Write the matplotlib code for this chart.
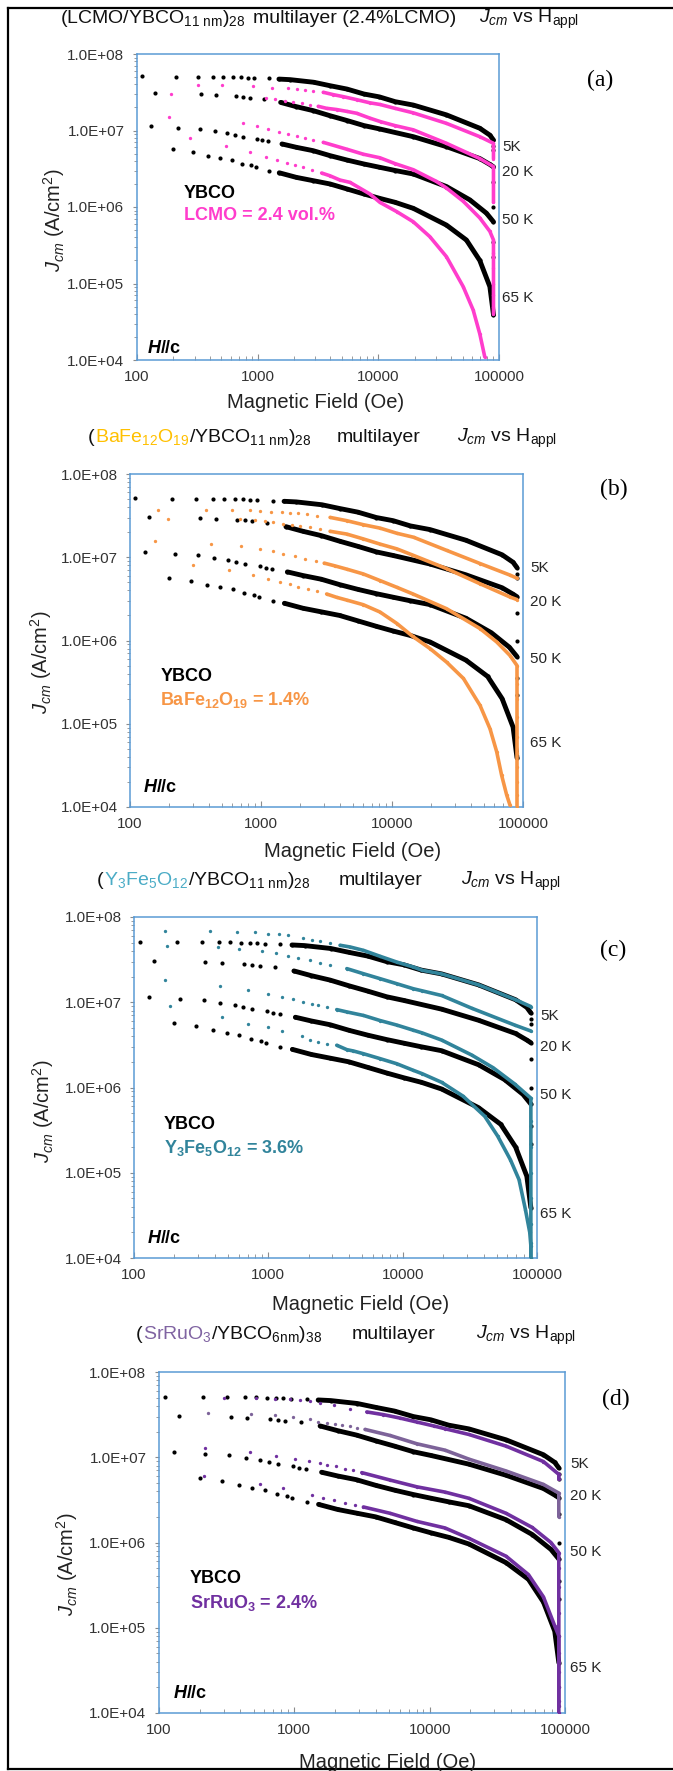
import matplotlib
matplotlib.use("Agg")
import matplotlib.pyplot as plt
from matplotlib.lines import Line2D
from matplotlib.ticker import LogLocator, NullFormatter

plt.rcParams['font.family'] = ['Liberation Sans', 'DejaVu Sans']
plt.rcParams['mathtext.fontset'] = 'custom'
plt.rcParams['mathtext.rm'] = 'Liberation Sans'
plt.rcParams['mathtext.it'] = 'Liberation Sans:italic'
plt.rcParams['mathtext.bf'] = 'Liberation Sans:bold'

W, H = 673, 1771

# ---- data: field H (Oe), Jcm (A/cm2) ----
# pure YBCO reference (same in all four panels)
ybco_5k_h = [110, 210, 320, 430, 520, 630, 730, 830, 940, 1230, 1500, 1860, 2920, 3980, 5500, 7590,
             10200, 13800, 19500, 36700, 69300, 84000, 90000, 90000, 90000]
ybco_5k_j = [5.15e7, 5.06e7, 5.06e7, 5.06e7, 5.06e7, 5.0e7, 4.95e7, 4.91e7, 4.85e7, 4.8e7, 4.7e7, 4.62e7,
             4.27e7, 3.85e7, 3.48e7, 3.0e7, 2.75e7, 2.38e7, 2.15e7, 1.6e7, 1.07e7, 8.7e6, 7.5e6, 6.3e6, 5.6e6]
ybco_20k_h = [140, 340, 450, 660, 760, 860, 1120, 1550, 2090, 2880, 3980, 5500, 7590, 10200, 19500,
              36700, 69300, 84000, 90000, 90000, 90000]
ybco_20k_j = [3.06e7, 2.97e7, 2.91e7, 2.82e7, 2.77e7, 2.69e7, 2.58e7, 2.33e7, 2.05e7, 1.82e7, 1.56e7,
              1.35e7, 1.16e7, 1.05e7, 8.3e6, 6.15e6, 4.3e6, 3.6e6, 3.35e6, 2.15e6, 1.0e6]
ybco_50k_h = [130, 220, 330, 440, 560, 650, 760, 980, 1090, 1220, 1590, 2090, 2880, 3980, 5500, 7590,
              10200, 13800, 19500, 36700, 57300, 78700, 90000, 90000, 90000]
ybco_50k_j = [1.16e7, 1.09e7, 1.06e7, 9.8e6, 9.2e6, 8.7e6, 8.3e6, 7.8e6, 7.5e6, 7.2e6, 6.67e6, 6.03e6,
              5.45e6, 4.69e6, 4.11e6, 3.65e6, 3.31e6, 3.0e6, 2.7e6, 1.85e6, 1.24e6, 8.3e5, 6.4e5, 3.5e5, 2.2e5]
ybco_65k_h = [200, 290, 390, 490, 610, 740, 880, 960, 1230, 1510, 2090, 2880, 3980, 5500, 7590, 10200,
              13800, 19500, 36700, 53700, 69300, 84000, 90000]
ybco_65k_j = [5.7e6, 5.2e6, 4.7e6, 4.4e6, 4.1e6, 3.7e6, 3.5e6, 3.3e6, 3.0e6, 2.8e6, 2.44e6, 2.21e6,
              2.0e6, 1.72e6, 1.48e6, 1.3e6, 1.15e6, 9.6e5, 5.8e5, 3.7e5, 2.0e5, 9.1e4, 3.9e4]

# (a) LCMO 2.4 vol.%
lcmo_5k_h = [320, 510, 910, 1310, 1800, 2100, 2470, 2890, 3500, 4240, 5120, 6610, 8510, 10300, 13700,
             19500, 36700, 69300, 90000, 90000]
lcmo_5k_j = [3.94e7, 3.94e7, 3.82e7, 3.63e7, 3.56e7, 3.48e7, 3.38e7, 3.32e7, 3.16e7, 2.94e7, 2.77e7,
             2.53e7, 2.3e7, 2.19e7, 1.95e7, 1.70e7, 1.24e7, 8.3e6, 6.8e6, 4.3e6]
lcmo_20k_h = [190, 1170, 1390, 1680, 1970, 2310, 2710, 3180, 3720, 4510, 5460, 6610, 8510, 10500,
              13700, 19500, 36700, 69300, 90000, 90000]
lcmo_20k_j = [2.97e7, 2.63e7, 2.58e7, 2.45e7, 2.38e7, 2.26e7, 2.18e7, 2.07e7, 1.95e7, 1.88e7, 1.78e7,
              1.68e7, 1.45e7, 1.3e7, 1.16e7, 1.02e7, 6.8e6, 4.3e6, 3.37e6, 1.15e6]
lcmo_50k_h = [185, 750, 980, 1220, 1510, 1800, 2100, 2470, 2890, 3500, 5460, 7500, 10300, 13700, 19500,
              30300, 36700, 50500, 69300, 84000, 90000, 90000, 90000, 90000, 90000, 90000, 90000]
lcmo_50k_j = [1.49e7, 1.24e7, 1.13e7, 1.05e7, 9.7e6, 9.0e6, 8.6e6, 8.1e6, 7.5e6, 7.0e6, 5.7e6, 4.9e6,
              4.4e6, 3.7e6, 3.07e6, 2.16e6, 1.77e6, 1.19e6, 7.2e5, 4.8e5, 3.7e5, 2.5e5, 1.6e5, 1.0e5,
              7.0e4, 5.0e4, 4.0e4]
lcmo_65k_h = [274, 550, 863, 1170, 1460, 1760, 2040, 2390, 2800, 3390, 3970, 4810, 5820, 8510, 10300,
              14200, 19500, 26700, 36700, 50500, 61100, 69300, 76200]
lcmo_65k_j = [7.9e6, 6.3e6, 5.3e6, 4.55e6, 4.11e6, 3.76e6, 3.54e6, 3.30e6, 3.05e6, 2.78e6, 2.56e6,
              2.25e6, 2.10e6, 1.48e6, 1.15e6, 8.7e5, 6.4e5, 4.1e5, 2.24e5, 9.1e4, 4.5e4, 2.2e4, 1.1e4]

# (b) BaFe12O19 1.4%
bafe_5k_h = [164, 383, 603, 830, 980, 1200, 1440, 1660, 1930, 2230, 2660, 3370, 4510, 6040, 8090,
             10900, 14600, 26100, 47000, 79600, 90000]
bafe_5k_j = [3.7e7, 3.7e7, 3.68e7, 3.66e7, 3.63e7, 3.53e7, 3.47e7, 3.40e7, 3.37e7, 3.31e7, 3.16e7,
             3.01e7, 2.75e7, 2.46e7, 2.24e7, 1.94e7, 1.74e7, 1.21e7, 8.4e6, 6.1e6, 5.6e6]
bafe_20k_h = [194, 692, 900, 1070, 1240, 1480, 1710, 1980, 2360, 2820, 3370, 4510, 6040, 8090, 10900,
              14200, 26100, 47000, 79600, 90000]
bafe_20k_j = [2.92e7, 2.88e7, 2.80e7, 2.75e7, 2.62e7, 2.51e7, 2.46e7, 2.39e7, 2.29e7, 2.18e7, 2.05e7,
              1.90e7, 1.66e7, 1.44e7, 1.26e7, 1.07e7, 7.3e6, 4.8e6, 3.33e6, 3.1e6]
bafe_50k_h = [155, 413, 700, 982, 1240, 1480, 1810, 2180, 2620, 3040, 3640, 4510, 6040, 8090, 10900,
              14400, 26100, 47000, 63000, 79600, 90000, 90000, 90000, 90000, 90000, 90000, 90000, 90000,
              90000, 90000]
bafe_50k_j = [1.55e7, 1.44e7, 1.35e7, 1.26e7, 1.2e7, 1.09e7, 1.04e7, 9.5e6, 8.9e6, 8.5e6, 7.9e6, 7.2e6,
              6.3e6, 5.25e6, 4.35e6, 3.63e6, 2.41e6, 1.39e6, 9.6e5, 6.6e5, 5.0e5, 3.0e5, 2.0e5, 1.2e5,
              7.0e4, 4.5e4, 3.0e4, 2.0e4, 1.4e4, 1.0e4]
bafe_65k_h = [301, 571, 865, 1140, 1400, 1660, 1930, 2300, 2660, 3170, 3780, 4510, 6040, 8090, 10900,
              14400, 19500, 26100, 35100, 47000, 56000, 63000, 68700, 75000, 79600]
bafe_65k_j = [7.96e6, 7.06e6, 6.14e6, 5.45e6, 5.0e6, 4.78e6, 4.36e6, 4.16e6, 3.90e6, 3.62e6, 3.30e6,
              3.06e6, 2.69e6, 2.2e6, 1.6e6, 1.12e6, 8.0e5, 5.5e5, 3.5e5, 1.66e5, 8.7e4, 4.6e4, 2.4e4,
              1.4e4, 1.05e4]

# (c) Y3Fe5O12 3.6%
yig_5k_h = [170, 370, 580, 800, 1000, 1210, 1410, 1820, 2100, 2430, 2880, 3420, 4060, 5110, 6790, 9040,
            12000, 14000, 19500, 36700, 69300, 90000]
yig_5k_j = [6.9e7, 6.9e7, 6.7e7, 6.7e7, 6.4e7, 6.3e7, 6.1e7, 5.6e7, 5.4e7, 5.2e7, 4.95e7, 4.66e7, 4.45e7,
            4.06e7, 3.46e7, 2.96e7, 2.59e7, 2.37e7, 2.15e7, 1.6e7, 1.07e7, 8.9e6]
yig_20k_h = [175, 420, 600, 890, 1150, 1410, 1670, 2040, 2430, 2880, 3840, 5110, 6790, 9040, 12000,
             14000, 19500, 32700, 68200, 90000]
yig_20k_j = [4.6e7, 4.5e7, 4.26e7, 3.99e7, 3.78e7, 3.46e7, 3.33e7, 3.10e7, 2.91e7, 2.71e7, 2.48e7,
             2.16e7, 1.89e7, 1.65e7, 1.44e7, 1.36e7, 1.2e7, 8.5e6, 5.4e6, 4.6e6]
yig_50k_h = [170, 435, 710, 1000, 1260, 1530, 1820, 2100, 2360, 2720, 3230, 3840, 5110, 6790, 9040,
             12000, 14000, 19500, 32700, 47300, 68200, 90000, 90000, 90000, 90000, 90000, 90000, 90000,
             90000]
yig_50k_j = [1.81e7, 1.54e7, 1.38e7, 1.26e7, 1.15e7, 1.10e7, 1.01e7, 9.5e6, 9.2e6, 8.8e6, 8.2e6, 7.7e6,
             7.0e6, 6.1e6, 5.4e6, 4.7e6, 4.36e6, 3.6e6, 2.4e6, 1.7e6, 1.1e6, 7.5e5, 4.0e5, 2.0e5, 1.0e5,
             5.0e4, 2.5e4, 1.5e4, 1.0e4]
yig_65k_h = [184, 451, 710, 1000, 1260, 1770, 2040, 2360, 2720, 3230, 3840, 4300, 5110, 6790, 9040,
             12000, 14000, 19500, 28200, 40800, 50900, 63400, 73500, 82000, 88300, 90000, 90000]
yig_65k_j = [9.1e6, 6.8e6, 5.5e6, 5.1e6, 4.56e6, 3.98e6, 3.64e6, 3.42e6, 3.27e6, 3.13e6, 2.78e6, 2.68e6,
             2.49e6, 2.18e6, 1.9e6, 1.59e6, 1.45e6, 1.15e6, 7.9e5, 4.6e5, 2.7e5, 1.42e5, 8.3e4, 3.7e4,
             2.0e4, 1.4e4, 1.0e4]

# (d) SrRuO3 2.4%
sro_5k_h = [300, 520, 720, 930, 1100, 1310, 1550, 1950, 2580, 3430, 4550, 6040, 8030, 10700, 13000,
            19500, 36700, 69300, 90000, 90000]
sro_5k_j = [4.9e7, 4.9e7, 4.8e7, 4.8e7, 4.66e7, 4.53e7, 4.33e7, 4.06e7, 3.71e7, 3.40e7, 3.16e7, 2.88e7,
            2.59e7, 2.33e7, 2.16e7, 1.85e7, 1.35e7, 8.9e6, 6.3e6, 5.5e6]
sro_20k_h = [232, 481, 720, 970, 1310, 1500, 1730, 2000, 2240, 2580, 2890, 3330, 5100, 8030, 13000,
             19500, 36700, 69300, 90000, 90000]
sro_20k_j = [3.33e7, 3.22e7, 3.1e7, 2.97e7, 2.79e7, 2.59e7, 2.55e7, 2.48e7, 2.37e7, 2.31e7, 2.20e7,
             2.12e7, 1.8e7, 1.44e7, 1.21e7, 9.5e6, 6.9e6, 4.8e6, 3.8e6, 2.0e6]
sro_50k_h = [220, 471, 733, 1010, 1290, 1550, 1750, 2030, 2370, 2730, 3150, 5100, 8030, 13000, 19500,
             36700, 57300, 78700, 90000, 90000, 90000, 90000, 90000, 90000, 90000, 90000]
sro_50k_j = [1.30e7, 1.15e7, 1.04e7, 9.6e6, 9.1e6, 8.6e6, 8.2e6, 7.8e6, 7.3e6, 7.0e6, 6.6e6, 5.4e6,
             4.5e6, 3.9e6, 3.3e6, 2.2e6, 1.5e6, 1.0e6, 7.6e5, 5.0e5, 3.0e5, 1.5e5, 8.0e4, 4.0e4, 2.0e4,
             1.2e4]
sro_65k_h = [215, 558, 830, 1350, 1640, 1950, 2370, 2810, 3240, 5100, 8030, 13000, 19500, 36700, 53700,
             69300, 84000, 90000, 90000, 90000, 90000, 90000, 90000]
sro_65k_j = [6.1e6, 4.9e6, 4.36e6, 3.64e6, 3.33e6, 3.13e6, 2.9e6, 2.73e6, 2.61e6, 2.2e6, 1.77e6, 1.48e6,
             1.12e6, 6.9e5, 4.2e5, 2.3e5, 1.05e5, 8.0e4, 5.0e4, 3.0e4, 2.0e4, 1.4e4, 1.0e4]

x_ticks = [100, 1000, 10000, 100000]
x_tick_labels = ['100', '1000', '10000', '100000']
y_ticks = [1e4, 1e5, 1e6, 1e7, 1e8]
y_tick_labels = ['1.0E+04', '1.0E+05', '1.0E+06', '1.0E+07', '1.0E+08']
temp_labels = ['5K', '20 K', '50 K', '65 K']

ybco_curves = [(ybco_5k_h, ybco_5k_j), (ybco_20k_h, ybco_20k_j),
               (ybco_50k_h, ybco_50k_j), (ybco_65k_h, ybco_65k_j)]

SUB_NM11 = r"/YBCO$_{\mathrm{11\ nm}}$)$_{\mathrm{28}}$"
JCM = r"$J_{cm}$ vs H$_{\mathrm{appl}}$"
TXT = '#111111'

panels = [
    dict(box=(137, 54, 499, 360), colors=['#FF3DCC'] * 4, text_color='#FF3DCC',
         letter='(a)', letter_xy=(600, 80),
         title=[(60, [(r"(LCMO" + SUB_NM11, TXT)]),
                (253, [("multilayer (2.4%LCMO)", TXT)]),
                (479, [(JCM, TXT)])], title_y=23,
         xlabel_xy=(316, 403), ylabel_xy=(54, 220),
         temp_x=502, temp_y=[147, 172, 220, 298],
         ybco_xy=(184, 198), doped_xy=(184, 220), hc_xy=(148, 353),
         doped_text="LCMO = 2.4 vol.%",
         curves=[(lcmo_5k_h, lcmo_5k_j), (lcmo_20k_h, lcmo_20k_j),
                 (lcmo_50k_h, lcmo_50k_j), (lcmo_65k_h, lcmo_65k_j)]),
    dict(box=(130, 474, 523, 807), colors=['#F79646'] * 4, text_color='#F79646',
         letter='(b)', letter_xy=(614, 489),
         title=[(88, [("(", TXT), (r"BaFe$_{12}$O$_{19}$", '#FFC000'), (SUB_NM11, TXT)]),
                (337, [("multilayer", TXT)]),
                (457, [(JCM, TXT)])], title_y=442,
         xlabel_xy=(353, 852), ylabel_xy=(41, 662),
         temp_x=530, temp_y=[568, 602, 659, 743],
         ybco_xy=(161, 681), doped_xy=(160, 705), hc_xy=(144, 792),
         doped_text=r"BaFe$_{\mathbf{12}}$O$_{\mathbf{19}}$ = 1.4%",
         curves=[(bafe_5k_h, bafe_5k_j), (bafe_20k_h, bafe_20k_j),
                 (bafe_50k_h, bafe_50k_j), (bafe_65k_h, bafe_65k_j)]),
    dict(box=(134, 917, 537, 1258), colors=['#31849B'] * 4, text_color='#31849B',
         letter='(c)', letter_xy=(613, 950),
         title=[(97, [("(", TXT), (r"Y$_3$Fe$_5$O$_{12}$", '#4BACC6'), (SUB_NM11, TXT)]),
                (339, [("multilayer", TXT)]),
                (461, [(JCM, TXT)])], title_y=885,
         xlabel_xy=(361, 1305), ylabel_xy=(43, 1111),
         temp_x=540, temp_y=[1016, 1047, 1095, 1214],
         ybco_xy=(164, 1129), doped_xy=(164, 1153), hc_xy=(148, 1243),
         doped_text=r"Y$_{\mathbf{3}}$Fe$_{\mathbf{5}}$O$_{\mathbf{12}}$ = 3.6%",
         curves=[(yig_5k_h, yig_5k_j), (yig_20k_h, yig_20k_j),
                 (yig_50k_h, yig_50k_j), (yig_65k_h, yig_65k_j)]),
    dict(box=(159, 1372, 565, 1713), colors=['#7030A0', '#7D6399', '#7030A0', '#7030A0'],
         text_color='#7030A0', letter='(d)', letter_xy=(616, 1399),
         title=[(136, [("(", TXT), (r"SrRuO$_3$", '#8064A2'),
                       (r"/YBCO$_{\mathrm{6nm}}$)$_{\mathrm{38}}$", TXT)]),
                (352, [("multilayer", TXT)]),
                (476, [(JCM, TXT)])], title_y=1339,
         xlabel_xy=(388, 1762), ylabel_xy=(67, 1564),
         temp_x=570, temp_y=[1464, 1496, 1552, 1668],
         ybco_xy=(190, 1583), doped_xy=(190, 1608), hc_xy=(174, 1698),
         doped_text=r"SrRuO$_{\mathbf{3}}$ = 2.4%",
         curves=[(sro_5k_h, sro_5k_j), (sro_20k_h, sro_20k_j),
                 (sro_50k_h, sro_50k_j), (sro_65k_h, sro_65k_j)]),
]


def fig_xy(x, y):
    return x / W, 1 - y / H


def rich_text(fig, renderer, x, y, parts, size, weight='normal'):
    # draw coloured pieces one after the other on a common baseline
    for part in parts:
        s, c = part[0], part[1]
        style = part[2] if len(part) > 2 else 'normal'
        t = fig.text(*fig_xy(x, y), s, color=c, fontsize=size, fontweight=weight,
                     fontstyle=style, ha='left', va='baseline')
        x += t.get_window_extent(renderer).width


def draw_curve(ax, h, j, color, ms, lw, line_from, tail_line):
    ax.plot(h, j, linestyle='none', marker='o', ms=ms, mfc=color, mec='none', zorder=3)
    k0 = next(i for i, v in enumerate(h) if v >= line_from)
    k1 = len(h) if tail_line else h.index(max(h)) + 1
    ax.plot(h[k0:k1], j[k0:k1], '-', color=color, lw=lw, solid_capstyle='round', zorder=3)


fig = plt.figure(figsize=(W / 100, H / 100), dpi=100)
renderer = fig.canvas.get_renderer()

for p in panels:
    l, t, r, b = p['box']
    ax = fig.add_axes([l / W, 1 - b / H, (r - l) / W, (b - t) / H])
    ax.set_xscale('log')
    ax.set_yscale('log')

    for h, j in ybco_curves:
        draw_curve(ax, h, j, 'black', 3.0, 3.5, 1500, False)
    for (h, j), c in zip(p['curves'], p['colors']):
        draw_curve(ax, h, j, c, 2.4, 2.6, 3000, True)

    ax.set_xlim(100, 1e5)
    ax.set_ylim(1e4, 1e8)
    ax.set_xticks(x_ticks)
    ax.set_xticklabels(x_tick_labels)
    ax.set_yticks(y_ticks)
    ax.set_yticklabels(y_tick_labels)
    ax.xaxis.set_minor_locator(LogLocator(base=10, subs=range(2, 10)))
    ax.yaxis.set_minor_locator(LogLocator(base=10, subs=range(2, 10)))
    ax.xaxis.set_minor_formatter(NullFormatter())
    ax.yaxis.set_minor_formatter(NullFormatter())
    ax.tick_params(axis='x', which='major', direction='in', length=4, width=0.8, color='#8c8c8c',
                   pad=7, labelsize=11, labelcolor='#333333')
    ax.tick_params(axis='x', which='minor', direction='in', length=3, width=0.6, color='#8c8c8c')
    ax.tick_params(axis='y', which='major', direction='out', length=3, width=0.8, color='#8c8c8c',
                   pad=6, labelsize=11, labelcolor='#333333')
    ax.tick_params(axis='y', which='minor', direction='out', length=2, width=0.6, color='#8c8c8c')
    for s in ax.spines.values():
        s.set_color('#5B9BD5')
        s.set_linewidth(1.1)

    for x0, parts in p['title']:
        rich_text(fig, renderer, x0, p['title_y'], parts, 14)

    fig.text(*fig_xy(*p['xlabel_xy']), "Magnetic Field (Oe)", fontsize=14.5, color='#222222',
             ha='center', va='center')
    fig.text(*fig_xy(*p['ylabel_xy']), r"$J_{cm}$ (A/cm$^{2}$)", fontsize=14.5, color='#222222',
             ha='center', va='center', rotation=90)
    fig.text(*fig_xy(*p['letter_xy']), p['letter'], fontsize=17, family='Liberation Serif',
             ha='center', va='center')
    for lab, ty in zip(temp_labels, p['temp_y']):
        fig.text(*fig_xy(p['temp_x'], ty), lab, fontsize=11, color='#262626', ha='left', va='center')

    rich_text(fig, renderer, *p['ybco_xy'], [("YBCO", 'black')], 13, 'bold')
    rich_text(fig, renderer, *p['doped_xy'], [(p['doped_text'], p['text_color'])], 13, 'bold')
    rich_text(fig, renderer, *p['hc_xy'], [("H", 'black', 'italic'), ("//c", 'black')], 13, 'bold')

# outer frame of the composite figure
for xs, ys in [([8, 8], [8, 1769]), ([8, 680], [8, 8]), ([8, 680], [1769, 1769])]:
    fig.add_artist(Line2D([x / W for x in xs], [1 - y / H for y in ys], color='black', lw=1.6,
                          transform=fig.transFigure))

fig.savefig("out.png", dpi=100, facecolor='white')
